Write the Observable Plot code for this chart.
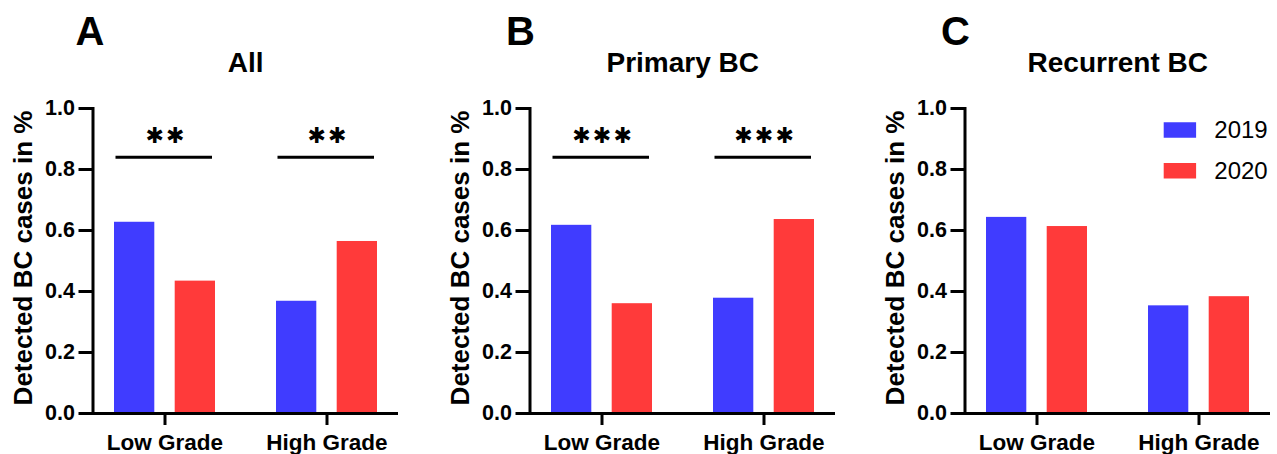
<!DOCTYPE html>
<html>
<head>
<meta charset="utf-8">
<script src="https://cdn.jsdelivr.net/npm/d3@7"></script>
<script src="https://cdn.jsdelivr.net/npm/@observablehq/plot@0.6"></script>
<style>
  html, body { margin: 0; padding: 0; background: #fff; overflow: hidden; }
  #wrap { position: relative; width: 1277px; height: 454px; }
  #wrap > svg { position: absolute; top: 0; max-width: none !important; }
  g[aria-label="y-axis tick label"], g[aria-label="x-axis tick label"] { font-weight: bold; }
</style>
</head>
<body>
<div id="wrap"></div>
<script>
// ---- data ----
const grades = ["Low Grade", "High Grade"];
const years = ["2019", "2020"];
const panelLetters = ["A", "B", "C"];
const panelTitles = ["All", "Primary BC", "Recurrent BC"];
const all2019 = [0.627, 0.368];
const all2020 = [0.434, 0.564];
const primary2019 = [0.617, 0.378];
const primary2020 = [0.360, 0.636];
const recurrent2019 = [0.643, 0.353];
const recurrent2020 = [0.613, 0.383];
const allStars = ["**", "**"];
const primaryStars = ["***", "***"];
const recurrentStars = [];
const yTicks = [0, 0.2, 0.4, 0.6, 0.8, 1.0];
const yLabel = "Detected BC cases in %";
const colors = ["#403cff", "#ff3a3a"];
const bracketLevel = 0.84;
const starLevel = 0.91;

// ---- layout ----
const FONT = "'Liberation Sans', Arial, Helvetica, sans-serif";
const panelLeft = [0, 436.5, 871.5];
const panelWidth = [436.5, 435, 405.5];
const letterDx = [-17.5, -24, -24];
const ML = 92.5, FW = 305.5, MT = 108, MB = 41, H = 454;

const panelValues = [[all2019, all2020], [primary2019, primary2020], [recurrent2019, recurrent2020]];
const panelStars = [allStars, primaryStars, recurrentStars];

const swatch = { draw(ctx) { ctx.rect(-16.2, -7.8, 32.4, 15.6); } };
// significance asterisks drawn with the heavy asterisk glyph
const starGlyph = s => s.split("").map(() => "\u2731").join("\u200A");

const wrap = document.getElementById("wrap");

panelLetters.forEach((letter, p) => {
  const rows = grades.flatMap((g, gi) => years.map((yr, yi) => ({grade: g, year: yr, value: panelValues[p][yi][gi]})));
  const sig = panelStars[p].map((s, gi) => ({grade: grades[gi], stars: s}));
  const width = panelWidth[p];
  const marks = [
    Plot.barY(rows.filter(d => d.year === years[0]), {x: "grade", y: "value", fill: "year", insetRight: 60.7}),
    Plot.barY(rows.filter(d => d.year === years[1]), {x: "grade", y: "value", fill: "year", insetLeft: 60.7}),
    Plot.ruleY([0], {stroke: "black", strokeWidth: 3, insetLeft: -13}),
    Plot.frame({anchor: "left", stroke: "black", strokeWidth: 3}),
    Plot.axisY({ticks: yTicks, tickFormat: d3.format(".1f"), tickSize: 14, tickPadding: 4, strokeWidth: 3, fontSize: 21.5, fontWeight: "bold", label: null}),
    Plot.axisX({tickSize: 12, tickPadding: 9, strokeWidth: 3, fontSize: 22.5, fontWeight: "bold", label: null}),
    Plot.tickY(sig, {x: "grade", y: bracketLevel, stroke: "black", strokeWidth: 3, insetLeft: 1.5, insetRight: 3}),
    Plot.text(sig, {x: "grade", y: starLevel, text: d => starGlyph(d.stars), fontFamily: "'DejaVu Sans', sans-serif", fontSize: 22, fontWeight: "bold", lineAnchor: "middle", dy: 0}),
    Plot.text([panelTitles[p]], {frameAnchor: "top", lineAnchor: "top", dy: -56.3, fontSize: 28, fontWeight: "bold"}),
    Plot.text([letter], {frameAnchor: "top-left", textAnchor: "start", lineAnchor: "top", dx: letterDx[p], dy: -92, fontSize: 40, fontWeight: "bold"}),
    Plot.text([yLabel], {frameAnchor: "left", rotate: -90, textAnchor: "middle", lineAnchor: "middle", dx: -69.5, dy: -3, fontSize: 26, fontWeight: "bold"})
  ];
  if (p === 2) {
    years.forEach((yr, i) => {
      marks.push(Plot.dot([yr], {frameAnchor: "top-right", symbol: swatch, fill: d => d, dx: -90.6, dy: 21.5 + i * 40.8}));
      marks.push(Plot.text([yr], {frameAnchor: "top-right", textAnchor: "start", lineAnchor: "middle", dx: -56.2, dy: 22 + i * 40.8, fontSize: 24}));
    });
  }
  const chart = Plot.plot({
    width, height: H,
    marginLeft: ML, marginRight: width - ML - FW, marginTop: MT, marginBottom: MB,
    x: {domain: grades, paddingInner: 0.376, paddingOuter: 0.128},
    y: {domain: [0, 1]},
    color: {domain: years, range: colors},
    style: {fontFamily: FONT, background: "transparent", overflow: "visible", color: "black"},
    marks
  });
  chart.style.left = panelLeft[p] + "px";
  wrap.appendChild(chart);
});
</script>
</body>
</html>
